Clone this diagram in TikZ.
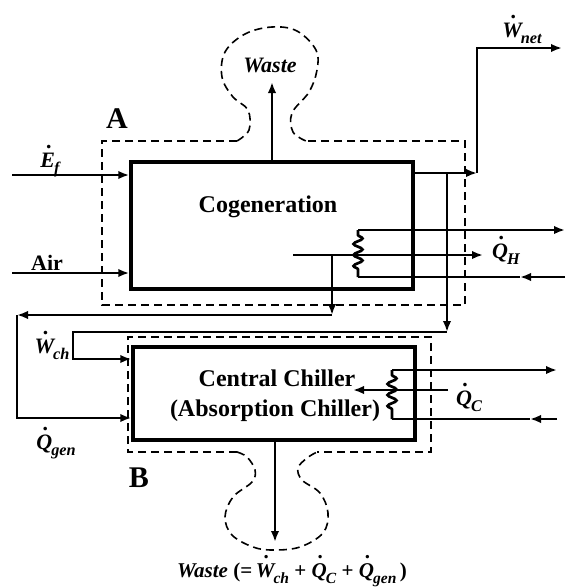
\documentclass[tikz,border=0pt]{standalone}
\usepackage{fontspec}
\setmainfont{Liberation Serif}
\usetikzlibrary{arrows.meta,decorations.pathmorphing}
\newcommand\dtop[1]{\ooalign{#1\cr\hidewidth\kern0.18em\smash{\raisebox{0.86em}{.}}\hidewidth\cr}}
\newcommand\dq[2]{\textbf{\textit{\dtop{#1}\kern-0.04em\raisebox{-0.3em}{\scalebox{0.74}{#2}}}}}
\tikzset{
  ln/.style={line width=2.7pt},
  arr/.style={ln,-{Latex[length=11pt,width=8.5pt]}},
  unit/.style={draw,rectangle,line width=3.5pt,inner sep=0pt},
  bnd/.style={line width=1.6pt,dash pattern=on 8pt off 5pt},
  lbl/.style={font=\fontsize{22}{24}\selectfont\bfseries,inner sep=0pt,anchor=base},
  big/.style={font=\fontsize{24}{30}\selectfont\bfseries,inner sep=0pt,anchor=base},
  cv/.style={font=\fontsize{30}{32}\selectfont\bfseries,inner sep=0pt,anchor=base},
  coilk/.style={ln,decorate,decoration={snake,amplitude=4.5pt,segment length=11pt,pre length=5pt,post length=5pt}}
}
\begin{document}
\begin{tikzpicture}[x=1pt,y=-1pt]
\useasboundingbox (0,0) rectangle (566,587);
% units
\node[unit,minimum width=282pt,minimum height=127pt] (cog) at (272,225.5) {};
\node[unit,minimum width=282pt,minimum height=93pt] (chil) at (274,393.5) {};
\node[big] (cogtxt) at (268,212) {Cogeneration};
\node[big] (chtxt1) at (277,386) {Central Chiller};
\node[big] (chtxt2) at (275,416) {(Absorption Chiller)};
% boundary A
\draw[bnd] (237,141) -- (102,141) -- (102,305) -- (465,305) -- (465,141) -- (306,141);
\draw[bnd] plot[smooth,tension=0.6] coordinates {(237,141) (249,130) (248,110) (233,97) (222,77) (225,52) (245,34) (272,27) (297,31) (316,50) (317,70) (309,92) (292,113) (293,132) (306,141)};
% boundary B
\draw[bnd] (237,452) -- (128,452) -- (128,337) -- (431,337) -- (431,452) -- (317,452);
\draw[bnd] plot[smooth,tension=0.6] coordinates {(237,452) (247,457) (255,470) (252,482) (233,497) (225,517) (232,535) (253,547) (273,550) (300,547) (323,533) (328,513) (320,493) (302,480) (298,468) (307,458) (317,452)};
\node[cv] (lA) at (117,128) {A};
\node[cv] (lB) at (139,487) {B};
% inputs
\coordinate (ef0) at (12,175);
\coordinate (air0) at (12,273);
\draw[arr] (ef0) -- (ef0 -| cog.west);
\draw[arr] (air0) -- (air0 -| cog.west);
\node[lbl] (lef) at (50,167) {\dq{E}{f}};
\node[lbl] (lair) at (47,270) {Air};
% waste top
\coordinate (wt) at (272,82);
\draw[arr] (cog.north) -- (wt);
\node[lbl] (lwt) at (270,72) {\textit{Waste}};
% net power
\coordinate (wn1) at (477,173);
\coordinate (wn2) at (477,48);
\coordinate (wn3) at (562,48);
\draw[arr] (wn1 -| cog.east) -- (wn1);
\draw[arr] (wn1) -- (wn2) -- (wn3);
\node[lbl] (lwn) at (522,37) {\dq{W}{net}};
% chiller electricity
\coordinate (wc0) at (447,173);
\coordinate (wc1) at (447,332);
\coordinate (wc2) at (73,332);
\coordinate (wc3) at (73,359);
\draw[arr] (wc0) -- (wc1);
\draw[arr] (wc1) -- (wc2) -- (wc3) -- (wc3 -| chil.west);
\node[lbl] (lwc) at (52,353) {\dq{W}{ch}};
% heat recovery
\coordinate (qh0) at (293,255);
\coordinate (qh1) at (483,255);
\draw[arr] (qh0) -- (qh1);
\node[lbl] (lqh) at (506,258) {\dq{Q}{H}};
\coordinate (hc1) at (358,230);
\coordinate (hc2) at (358,277);
\coordinate (ho) at (565,230);
\coordinate (hi) at (565,277);
\coordinate (hm) at (520,277);
\draw[coilk] (hc1) -- (hc2);
\draw[arr] (hc1) -- (ho);
\draw[arr] (hi) -- (hm);
\draw[ln] (hm) -- (hc2);
% generator heat
\coordinate (qg0) at (332,255);
\coordinate (qg1) at (332,315);
\coordinate (qg2) at (17,315);
\coordinate (qg3) at (17,418);
\draw[arr] (qg0) -- (qg1);
\draw[arr] (qg1) -- (qg2);
\draw[arr] (qg2) -- (qg3) -- (qg3 -| chil.west);
\node[lbl] (lqg) at (56,449) {\dq{Q}{gen}};
% chilled water
\coordinate (cc1) at (392,370);
\coordinate (cc2) at (392,419);
\coordinate (co) at (557,370);
\coordinate (ci) at (557,419);
\coordinate (cm) at (530,419);
\draw[coilk] (cc1) -- (cc2);
\draw[arr] (cc1) -- (co);
\draw[arr] (ci) -- (cm);
\draw[ln] (cm) -- (cc2);
\coordinate (qc0) at (448,390);
\coordinate (qc1) at (353,390);
\draw[arr] (qc0) -- (qc1);
\node[lbl] (lqc) at (469,405) {\dq{Q}{C}};
% waste bottom
\coordinate (wb) at (275,542);
\draw[arr] (wb |- chil.south) -- (wb);
\node[lbl,font=\fontsize{21}{23}\selectfont\bfseries] (lwb) at (292,577) {\textit{Waste} (=\,\dq{W}{ch} + \dq{Q}{C} + \dq{Q}{gen}\,)};
\end{tikzpicture}
\end{document}
